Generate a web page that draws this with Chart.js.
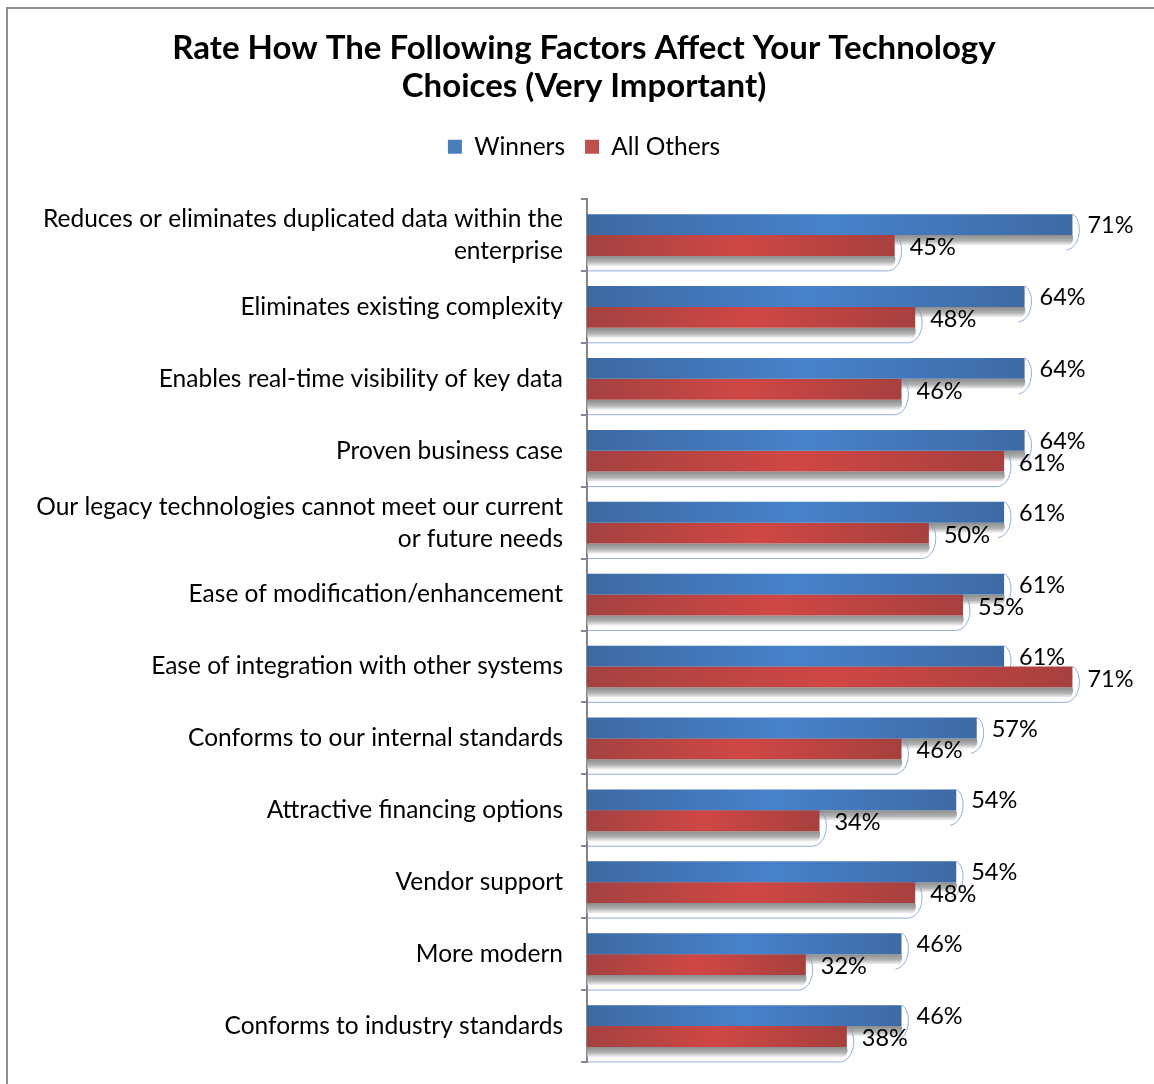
<!DOCTYPE html>
<html>
<head>
<meta charset="utf-8">
<script src="https://cdn.jsdelivr.net/npm/chart.js@4.4.1/dist/chart.umd.min.js"></script>
<style>
  html, body { margin: 0; padding: 0; background: #fff; overflow: hidden; }
  #frame { position: absolute; left: 6px; top: 7px; width: 1300px; height: 1300px; border: 2px solid #8e8e8e; }
  #chart { position: absolute; left: 0; top: 0; }
</style>
</head>
<body>
<div id="frame"></div>
<canvas id="chart" width="1154" height="1084"></canvas>
<script>
// --- dados ---
const factors = [
  ['Reduces or eliminates duplicated data within the', 'enterprise'],
  'Eliminates existing complexity',
  'Enables real-time visibility of key data',
  'Proven business case',
  ['Our legacy technologies cannot meet our current', 'or future needs'],
  'Ease of modification/enhancement',
  'Ease of integration with other systems',
  'Conforms to our internal standards',
  'Attractive financing options',
  'Vendor support',
  'More modern',
  'Conforms to industry standards'
];
const winners = [71, 64, 64, 64, 61, 61, 61, 57, 54, 54, 46, 46];
const allOthers = [45, 48, 46, 61, 50, 55, 71, 46, 34, 48, 32, 38];

const FONT = 'Lato, "Open Sans", sans-serif';
const PAD_LEFT = 34;

// gradiente horizontal escuro-claro-escuro ao longo de cada barra
function barFill(ctx, stops) {
  const chart = ctx.chart;
  if (!chart.chartArea || ctx.raw == null) return stops[1];
  const x0 = chart.scales.x.getPixelForValue(0);
  const x1 = chart.scales.x.getPixelForValue(ctx.raw);
  const g = chart.ctx.createLinearGradient(x0, 0, x1, 0);
  g.addColorStop(0, stops[0]);
  g.addColorStop(0.5, stops[1]);
  g.addColorStop(1, stops[2]);
  return g;
}

// sombra cinza sob as barras + linhas de chamada
const shadowPlugin = {
  id: 'barShadow',
  beforeDatasetsDraw(chart) {
    const c = chart.ctx;
    chart.data.datasets.forEach((ds, di) => {
      chart.getDatasetMeta(di).data.forEach(bar => {
        const bottom = bar.y + bar.height / 2;
        const top = bar.y - bar.height / 2;
        // linha de chamada (azul claro)
        c.save();
        c.strokeStyle = 'rgba(110,150,205,0.75)';
        c.lineWidth = 1;
        c.beginPath();
        c.moveTo(bar.x, top);
        c.bezierCurveTo(bar.x + 10, top + 4, bar.x + 10, bottom + 12, bar.x - 6, bottom + 15);
        if (di === 1) c.lineTo(bar.base, bottom + 15);
        c.stroke();
        // sombra
        const g = c.createLinearGradient(0, bottom, 0, bottom + 10);
        g.addColorStop(0, '#8c8c8c');
        g.addColorStop(0.6, '#b4b4b4');
        g.addColorStop(1, 'rgba(225,225,225,0.6)');
        c.fillStyle = g;
        c.beginPath();
        c.moveTo(bar.base, bottom);
        c.lineTo(bar.x, bottom);
        c.quadraticCurveTo(bar.x + 2, bottom + 5, bar.x - 2, bottom + 10);
        c.lineTo(bar.base, bottom + 10);
        c.closePath();
        c.fill();
        c.restore();
      });
    });
  }
};

// rótulos de valor à direita das barras
const valueLabels = {
  id: 'valueLabels',
  afterDatasetsDraw(chart) {
    const c = chart.ctx;
    c.save();
    c.font = '23.5px ' + FONT;
    c.fillStyle = '#000';
    c.textBaseline = 'middle';
    c.textAlign = 'left';
    chart.data.datasets.forEach((ds, di) => {
      chart.getDatasetMeta(di).data.forEach((bar, i) => {
        c.fillText(ds.data[i] + '%', bar.x + 15, bar.y + 1 + di);
      });
    });
    c.restore();
  }
};

new Chart(document.getElementById('chart'), {
  type: 'bar',
  data: {
    labels: factors,
    datasets: [
      {
        label: 'Winners',
        data: winners,
        backgroundColor: ctx => barFill(ctx, ['#3d69a2', '#4782ca', '#3e6aa4']),
        borderWidth: 0
      },
      {
        label: 'All Others',
        data: allOthers,
        backgroundColor: ctx => barFill(ctx, ['#a44240', '#cf4745', '#a6403e']),
        borderWidth: 0
      }
    ]
  },
  options: {
    indexAxis: 'y',
    responsive: false,
    animation: false,
    devicePixelRatio: 1,
    categoryPercentage: 0.58,
    barPercentage: 1,
    layout: { padding: { left: PAD_LEFT, right: 20, top: 0, bottom: 22 } },
    plugins: {
      title: {
        display: true,
        text: ['Rate How The Following Factors Affect Your Technology', 'Choices (Very Important)'],
        color: '#000',
        font: { family: FONT, size: 33, weight: 'bold', lineHeight: 1.13 },
        padding: { top: 30, bottom: 10 }
      },
      legend: {
        display: true,
        position: 'top',
        labels: {
          color: '#000',
          font: { family: FONT, size: 24.5 },
          boxWidth: 14,
          boxHeight: 14,
          padding: 20,
          generateLabels(chart) {
            const cols = ['#4a7ebb', '#c0504d'];
            return chart.data.datasets.map((ds, i) => ({
              text: ds.label,
              fillStyle: cols[i],
              strokeStyle: cols[i],
              lineWidth: 0,
              fontColor: '#000',
              datasetIndex: i
            }));
          }
        }
      },
      tooltip: { enabled: false }
    },
    scales: {
      x: {
        // eixo invisível no topo, só para dar espaço abaixo da legenda
        display: true,
        position: 'top',
        min: 0,
        max: 80,
        ticks: { display: false },
        grid: { display: false },
        border: { display: false },
        afterFit(scale) { scale.height = 30; }
      },
      y: {
        afterFit(scale) {
          scale.width = 587 - PAD_LEFT;
          scale.paddingTop = 0;
          scale.paddingBottom = 0;
        },
        grid: {
          display: true,
          drawOnChartArea: false,
          drawTicks: true,
          tickLength: 6,
          color: '#868686',
          lineWidth: 2,
          offset: true
        },
        border: { display: true, color: '#868686', width: 2 },
        ticks: {
          color: '#000',
          padding: 18,
          font: { family: FONT, size: 24.5, lineHeight: 1.3 }
        }
      }
    }
  },
  plugins: [shadowPlugin, valueLabels]
});
</script>
</body>
</html>
